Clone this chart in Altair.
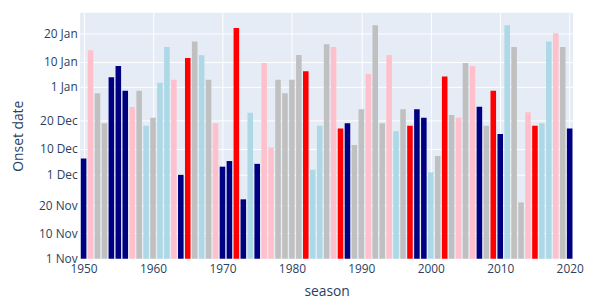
import altair as alt
import pandas as pd

# Seasons (x) and onset date expressed as days after 1 November (y)
seasons = list(range(1950, 2021))
onset_days = [
    35.6, 74.1, 58.8, 48.1, 64.5, 68.5, 59.7, 53.9, 59.7, 47.2,
    50.1, 62.5, 75.2, 63.6, 29.8, 71.3, 77.2, 72.3, 63.6, 48.1,
    32.7, 34.7, 82.0, 21.1, 51.9, 33.7, 69.5, 39.5, 63.6, 58.8,
    63.6, 72.4, 66.6, 31.6, 47.2, 76.2, 75.2, 46.3, 48.1, 40.4,
    53.1, 65.6, 82.9, 48.1, 72.4, 45.3, 53.1, 47.2, 53.1, 50.1,
    30.7, 36.5, 64.7, 51.1, 50.1, 69.5, 68.5, 54.0, 47.2, 59.7,
    44.3, 82.9, 75.2, 20.0, 52.0, 47.2, 48.1, 77.2, 80.1, 75.2,
    46.3,
]
N, WL, NE, WE, SE = "Strong La Niña", "Weak La Niña", "Neutral", "Weak El Niño", "Strong El Niño"
phase = [
    N, WE, NE, NE, N, N, N, WE, NE, WL,
    NE, WL, WL, WE, N, SE, NE, WL, NE, WE,
    N, N, SE, N, WL, N, WE, WE, NE, NE,
    NE, NE, SE, WL, WL, NE, WE, SE, N, NE,
    NE, WE, NE, NE, WE, WL, NE, SE, N, N,
    WL, NE, SE, NE, WE, NE, WE, N, NE, SE,
    N, WL, NE, NE, WE, SE, WL, WL, WE, NE,
    N,
]
phase_order = [N, WL, NE, WE, SE]
phase_colors = ["#000080", "#ADD8E6", "#C0C0C0", "#FFC0CB", "#FF0000"]

y_tick_days = [0, 9, 19, 30, 39, 49, 61, 70, 80]
y_tick_labels = ["1 Nov", "10 Nov", "20 Nov", "1 Dec", "10 Dec", "20 Dec", "1 Jan", "10 Jan", "20 Jan"]
x_ticks = [1950, 1960, 1970, 1980, 1990, 2000, 2010, 2020]

df = pd.DataFrame({"season": seasons, "onset": onset_days, "phase": phase})

label_expr = "".join(f"datum.value == {d} ? '{l}' : " for d, l in zip(y_tick_days, y_tick_labels)) + "''"

FONT = "Open Sans"
TXT = "#2a3f5f"

chart = (
    alt.Chart(df)
    .transform_calculate(x0="datum.season - 0.4", x1="datum.season + 0.4")
    .mark_bar()
    .encode(
        x=alt.X(
            "x0:Q",
            scale=alt.Scale(domain=[1949.5, 2020.5], nice=False, zero=False),
            axis=alt.Axis(
                title="season", values=x_ticks, format="d", grid=True, gridColor="white",
                domain=False, ticks=False, labelPadding=5, titlePadding=10,
                labelFont=FONT, labelFontSize=12, labelColor=TXT,
                titleFont=FONT, titleFontSize=14, titleColor=TXT, titleFontWeight="normal",
            ),
        ),
        x2="x1:Q",
        y=alt.Y(
            "onset:Q",
            scale=alt.Scale(domain=[0, 87.4], nice=False),
            axis=alt.Axis(
                title="Onset date", values=y_tick_days, labelExpr=label_expr,
                grid=True, gridColor="white", gridWidth=1, domain=False, ticks=False,
                labelPadding=3, titlePadding=13,
                labelFont=FONT, labelFontSize=12, labelColor=TXT,
                titleFont=FONT, titleFontSize=14, titleColor=TXT, titleFontWeight="normal",
            ),
        ),
        y2=alt.datum(0),
        color=alt.Color("phase:N", scale=alt.Scale(domain=phase_order, range=phase_colors), legend=None),
    )
    .properties(
        width=499,
        height=249,
        background="white",
        autosize=alt.AutoSizeParams(type="none"),
        padding={"left": 73, "top": 3, "right": 12, "bottom": 39},
    )
    .configure_view(fill="#E5ECF6", stroke=None)
)

chart.save("out.html", embed_options={"renderer": "svg", "actions": False})
